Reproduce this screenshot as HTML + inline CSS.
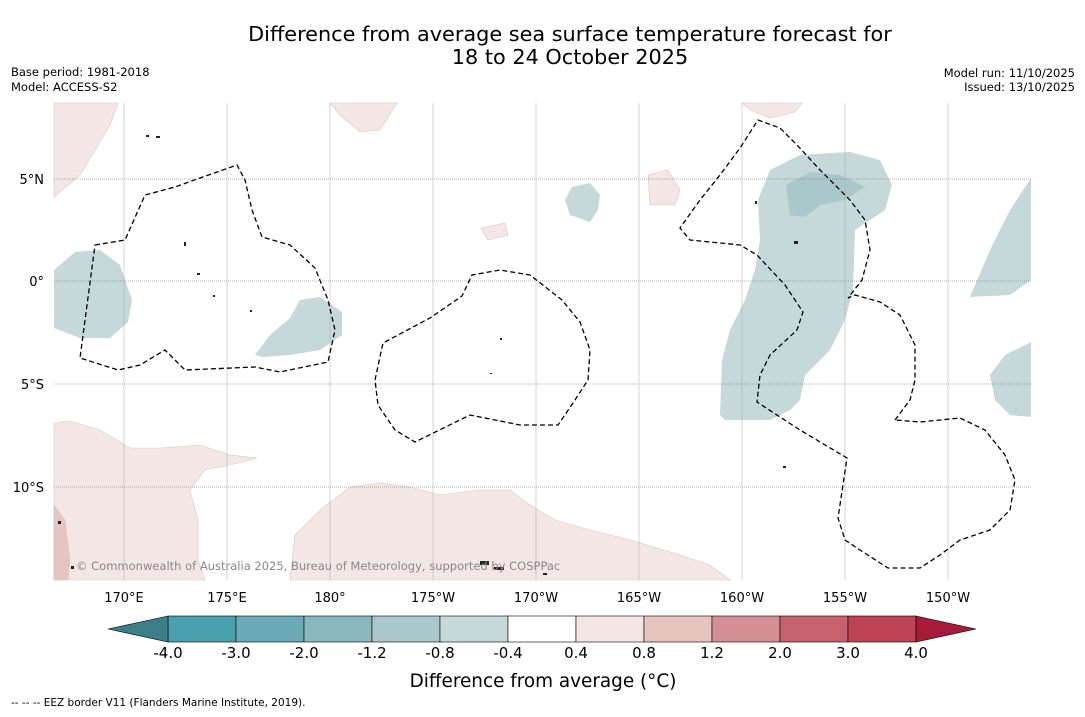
<!DOCTYPE html>
<html><head><meta charset="utf-8"><style>
body{margin:0;background:#fff;width:1085px;height:713px;overflow:hidden;font-family:"DejaVu Sans","Liberation Sans",sans-serif}
</style></head><body>
<svg width="1085" height="713" viewBox="0 0 1085 713" xmlns="http://www.w3.org/2000/svg" font-family="DejaVu Sans, Liberation Sans, sans-serif">
<g>
<text x="570" y="41" font-size="20.8" text-anchor="middle">Difference from average sea surface temperature forecast for</text>
<text x="570" y="64" font-size="20.8" text-anchor="middle">18 to 24 October 2025</text>
</g>
<text x="11" y="76" font-size="11.5">Base period: 1981-2018</text>
<text x="11" y="91" font-size="11.5">Model: ACCESS-S2</text>
<text x="1075" y="77" font-size="11.5" text-anchor="end">Model run: 11/10/2025</text>
<text x="1075" y="91" font-size="11.5" text-anchor="end">Issued: 13/10/2025</text>

<g>
<rect x="54" y="103" width="977" height="477" fill="#fff"/>
<g stroke="#d8c8c6" stroke-width="0.6" fill="#f4e6e4">
<polygon points="54,103 118,103 110,125 95,150 80,175 54,197"/>
<polygon points="330,103 397,103 380,130 360,132 340,115"/>
<polygon points="742,103 802,103 795,112 770,118 750,110"/>
<polygon points="648,175 668,170 680,190 675,205 650,205"/>
<polygon points="481,228 505,223 508,235 488,240"/>
<polygon points="54,423 70,421 100,430 130,448 160,448 200,445 230,455 257,458 230,465 205,470 190,490 198,520 198,560 205,580 54,580"/>
<polygon points="290,580 295,535 320,510 350,487 380,483 410,487 440,495 480,490 510,490 530,505 555,520 590,530 630,540 680,555 710,565 730,580"/>
<polygon fill="#e6c4bf" points="54,505 65,520 70,560 68,580 54,580"/>
</g>
<g fill="#c5d8da" stroke="none">
<polygon points="54,270 75,252 100,250 120,265 132,300 128,322 110,338 80,338 54,328"/>
<polygon points="255,355 270,335 290,318 300,300 320,297 342,312 342,335 320,350 290,355 262,357"/>
<polygon points="565,200 572,187 590,183 600,195 598,210 590,222 570,215"/>
<polygon points="720,415 722,360 730,330 745,300 755,270 760,240 758,200 770,170 800,155 850,152 880,160 892,185 885,210 855,230 853,290 845,320 830,350 805,375 800,400 790,410 770,420 725,420"/>
<polygon fill="#aac8cc" points="786,185 810,172 840,175 865,187 845,200 820,205 805,217 790,215"/>
<polygon points="970,297 990,250 1010,210 1031,178 1031,280 1010,295"/>
<polygon points="990,375 1005,355 1031,342 1031,417 1010,415 995,400"/>
</g>
<g stroke="#aaa" stroke-width="0.5">
<line x1="124" y1="103" x2="124" y2="580"/><line x1="227" y1="103" x2="227" y2="580"/><line x1="330" y1="103" x2="330" y2="580"/><line x1="433" y1="103" x2="433" y2="580"/><line x1="536" y1="103" x2="536" y2="580"/><line x1="639" y1="103" x2="639" y2="580"/><line x1="742" y1="103" x2="742" y2="580"/><line x1="845" y1="103" x2="845" y2="580"/><line x1="948" y1="103" x2="948" y2="580"/>
<g stroke-dasharray="1,1" stroke="#666"><line x1="54" y1="179" x2="1031" y2="179"/><line x1="54" y1="281" x2="1031" y2="281"/><line x1="54" y1="384" x2="1031" y2="384"/><line x1="54" y1="487" x2="1031" y2="487"/></g>
</g>
<g fill="none" stroke="#000" stroke-width="1.3" stroke-dasharray="5,3">
<polygon points="95,245 125,240 145,195 175,187 200,178 237,165 245,180 252,210 262,237 290,245 315,268 328,300 335,330 328,362 280,372 255,367 185,370 165,350 140,365 118,370 80,358"/>
<polygon points="375,380 383,343 430,318 462,296 472,275 500,270 530,275 562,300 580,322 590,350 588,380 575,400 558,425 520,425 470,415 415,442 395,430 378,405"/>
<polyline points="895,420 910,400 915,380 915,345 900,315 880,302 855,295 848,298 862,280 870,250 865,220 850,200 830,180 820,170 797,145 780,128 758,120 740,148 720,175 700,200 680,228 690,240 740,245 757,255 785,285 803,312 797,330 770,355 760,375 757,402 800,430 847,458 838,518 845,540 860,550 888,568 920,568 940,555 960,540 990,530 1010,510 1015,480 1005,455 985,430 960,418 920,422 895,420"/>
</g>
<g fill="#222">
<rect x="146" y="135" width="3" height="2"/><rect x="156" y="136" width="4" height="2"/><rect x="184" y="242" width="2" height="4"/><rect x="197" y="273" width="3" height="2"/><rect x="213" y="295" width="2" height="2"/><rect x="250" y="310" width="2" height="2"/><rect x="500" y="338" width="2" height="2"/><rect x="490" y="373" width="2" height="1"/><rect x="755" y="201" width="2" height="3"/><rect x="794" y="241" width="4" height="3"/><rect x="783" y="466" width="3" height="2"/><rect x="480" y="561" width="9" height="4"/><rect x="494" y="567" width="10" height="3"/><rect x="58" y="521" width="3" height="3"/><rect x="71" y="566" width="3" height="3"/><rect x="543" y="573" width="4" height="2"/>
</g>
<text x="76" y="570" font-size="11.5" fill="#888">© Commonwealth of Australia 2025, Bureau of Meteorology, supported by COSPPac</text>
</g>

<g font-size="13" text-anchor="end">
<text x="44" y="184">5°N</text><text x="44" y="286">0°</text><text x="44" y="389">5°S</text><text x="44" y="492">10°S</text>
</g>
<g font-size="13" text-anchor="middle">
<text x="124" y="602">170°E</text><text x="227" y="602">175°E</text><text x="330" y="602">180°</text><text x="433" y="602">175°W</text><text x="536" y="602">170°W</text><text x="639" y="602">165°W</text><text x="742" y="602">160°W</text><text x="845" y="602">155°W</text><text x="948" y="602">150°W</text>
</g>

<g id="cbar"></g>
<text x="543" y="687" font-size="18.4" text-anchor="middle">Difference from average (°C)</text>
<text x="11" y="706" font-size="10.5">--  --  -- EEZ border V11 (Flanders Marine Institute, 2019).</text>
</svg>
<script>
const levels = ["-4.0","-3.0","-2.0","-1.2","-0.8","-0.4","0.4","0.8","1.2","2.0","3.0","4.0"];
const colors = ["#4aa0ae","#6aaab6","#8ab6bd","#aac8cc","#c5d8da","#ffffff","#f4e6e4","#e6c4bf","#d48f96","#c6626e","#bd4455"];
const extendColors = ["#3d7f86","#a61a3a"];
const ns="http://www.w3.org/2000/svg";
const g=document.getElementById('cbar');
const x0=168,w=68,y0=616,h=26;
function bx(i){return x0+i*w;}
function mk(tag,attrs){const e=document.createElementNS(ns,tag);for(const k in attrs)e.setAttribute(k,attrs[k]);g.appendChild(e);return e;}
colors.forEach((c,i)=>{
  const r=mk('rect',{x:bx(i),y:y0,width:w,height:h,fill:c,stroke:'#000','stroke-width':0.6});
  
  
});
const lt=mk('polygon',{points:`${bx(0)},${y0} ${bx(0)-60},${y0+h/2} ${bx(0)},${y0+h}`,fill:extendColors[0],stroke:'#000','stroke-width':0.6});


const e=bx(colors.length);
const rt=mk('polygon',{points:`${e},${y0} ${e+60},${y0+h/2} ${e},${y0+h}`,fill:extendColors[1],stroke:'#000','stroke-width':0.6});


levels.forEach((l,i)=>{
  const t=mk('text',{x:bx(i),y:658,'font-size':15,'text-anchor':'middle'});
  t.textContent=l;
  
  
});
</script>
</body></html>
